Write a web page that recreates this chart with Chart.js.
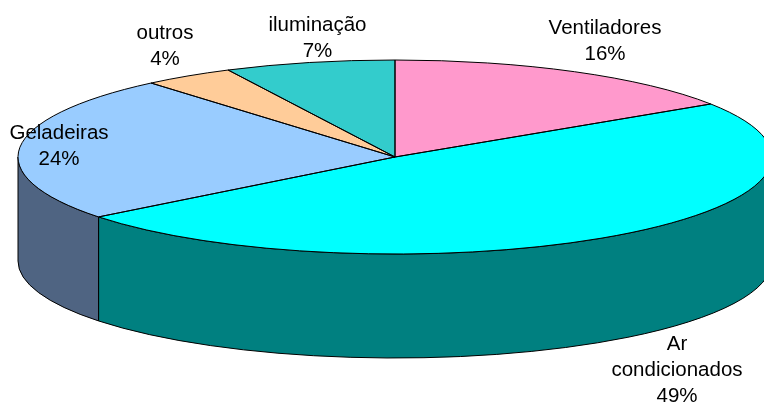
<!DOCTYPE html>
<html>
<head>
<meta charset="utf-8">
<style>
  html, body { margin: 0; padding: 0; background: #fff; }
  canvas { display: block; }
</style>
<script src="https://cdn.jsdelivr.net/npm/chart.js@4"></script>
</head>
<body>
<canvas id="pieChart" width="764" height="403"></canvas>
<script>
const categories = ['Ventiladores', 'Ar condicionados', 'Geladeiras', 'outros', 'iluminação'];
const shares = [15.8, 48.6, 24.4, 3.9, 7.3];

const topColors = ['#FF99CC', '#00FFFF', '#99CCFF', '#FFCC99', '#33CCCC'];
const sideColors = ['#803366', '#008080', '#4F6482', '#806633', '#1A6666'];

// label text is split by line, each with its centre on the canvas
const labelLines = [['Ventiladores'], ['Ar', 'condicionados'], ['Geladeiras'], ['outros'], ['iluminação']];
const labelSpots = [[605, 28], [677, 344], [59, 133], [165, 33], [317.5, 25]];
const lineGap = 26;

const tilt = 97 / 377;
const depth = 104;

const pie3d = {
  id: 'pie3d',
  beforeDatasetsDraw (chart) {
    const ctx = chart.ctx;
    ctx.save();
    ctx.lineWidth = 1;
    ctx.strokeStyle = '#000';
    chart.getDatasetMeta(0).data.forEach((arc, i) => {
      const rx = arc.outerRadius;
      const ry = rx * tilt;
      // only the part of the rim facing down is seen
      const a1 = Math.max(arc.startAngle, 0);
      const a2 = Math.min(arc.endAngle, Math.PI);
      if (a2 <= a1) return;
      ctx.beginPath();
      ctx.ellipse(arc.x, arc.y, rx, ry, 0, a1, a2);
      ctx.ellipse(arc.x, arc.y + depth, rx, ry, 0, a2, a1, true);
      ctx.closePath();
      ctx.fillStyle = sideColors[i];
      ctx.fill();
      ctx.stroke();
    });
    ctx.restore();
  },
  beforeDatasetDraw (chart) {
    const ctx = chart.ctx;
    const arc = chart.getDatasetMeta(0).data[0];
    ctx.save();
    ctx.translate(arc.x, arc.y);
    ctx.scale(1, tilt);
    ctx.translate(-arc.x, -arc.y);
  },
  afterDatasetDraw (chart) {
    chart.ctx.restore();
  },
  afterDatasetsDraw (chart) {
    const ctx = chart.ctx;
    ctx.save();
    ctx.lineWidth = 1;
    ctx.strokeStyle = '#000';
    ctx.lineJoin = 'round';
    chart.getDatasetMeta(0).data.forEach((arc) => {
      ctx.beginPath();
      ctx.moveTo(arc.x, arc.y);
      ctx.ellipse(arc.x, arc.y, arc.outerRadius, arc.outerRadius * tilt, 0, arc.startAngle, arc.endAngle);
      ctx.closePath();
      ctx.stroke();
    });
    ctx.restore();
  },
  afterDraw (chart) {
    const ctx = chart.ctx;
    ctx.save();
    ctx.font = '20.5px "Liberation Sans"';
    ctx.fillStyle = '#000';
    ctx.textAlign = 'center';
    ctx.textBaseline = 'middle';
    categories.forEach((name, i) => {
      const lines = labelLines[i].concat(Math.round(shares[i]) + '%');
      lines.forEach((line, k) => {
        ctx.fillText(line, labelSpots[i][0], labelSpots[i][1] + k * lineGap);
      });
    });
    ctx.restore();
  }
};

const config = {
  type: 'pie',
  data: {
    labels: categories,
    datasets: [{
      data: shares,
      backgroundColor: topColors,
      borderWidth: 0,
      clip: false
    }]
  },
  options: {
    responsive: false,
    animation: false,
    radius: 377,
    layout: { padding: { left: 26, bottom: 89 } },
    plugins: {
      legend: { display: false },
      tooltip: { enabled: false }
    }
  },
  plugins: [pie3d]
};

var pieChart = new Chart(document.getElementById('pieChart'), config);
</script>
</body>
</html>
